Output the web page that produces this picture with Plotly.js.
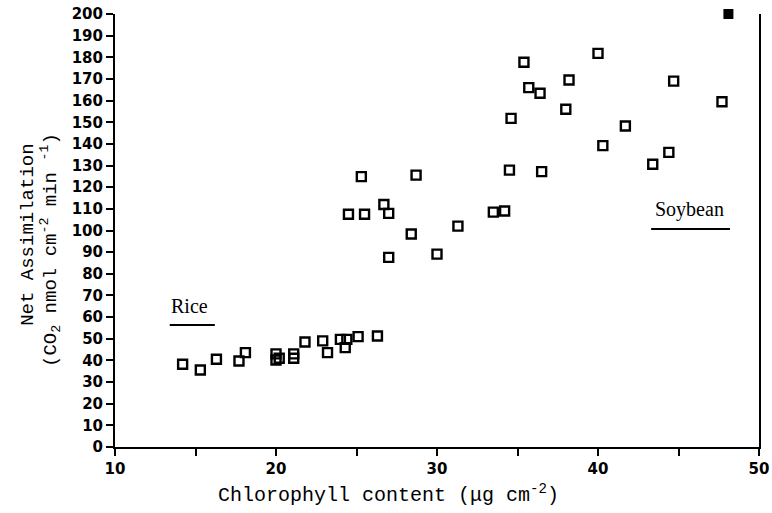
<!DOCTYPE html>
<html><head><meta charset="utf-8">
<script src="https://cdn.plot.ly/plotly-3.0.1.min.js"></script>
<style>html,body{margin:0;padding:0;background:#fff}</style>
</head><body><div id="chart" style="width:772px;height:513px"></div>
<script>
// Rice data
const riceX = [14.2, 15.3, 16.3, 17.7, 18.1, 20.0, 20.0, 20.2, 21.1, 21.1, 21.8, 22.9, 23.2, 24.0, 24.4, 24.3, 25.1, 26.3];
const riceY = [38.2, 35.6, 40.5, 39.7, 43.6, 43.0, 40.2, 41.0, 43.0, 41.0, 48.5, 49.0, 43.6, 49.7, 49.7, 45.9, 51.0, 51.3];
// Soybean data
const soyX = [25.3, 28.7, 24.5, 25.5, 26.7, 27.0, 28.4, 31.3, 27.0, 30.0, 33.5, 34.2,
  35.4, 40.0, 38.2, 35.7, 36.4, 44.7, 47.7, 34.6, 38.0, 41.7, 40.3, 44.4, 43.4, 34.5, 36.5];
const soyY = [124.9, 125.6, 107.5, 107.5, 112.0, 107.9, 98.4, 102.0, 87.6, 89.1, 108.5, 109.0,
  177.7, 181.8, 169.5, 166.0, 163.4, 169.0, 159.5, 151.8, 156.0, 148.3, 139.2, 136.1, 130.6, 127.9, 127.2];
const filledX = [48.1];
const filledY = [200];
const xTicks = [10, 20, 30, 40, 50];
const yTicks = [0,10,20,30,40,50,60,70,80,90,100,110,120,130,140,150,160,170,180,190,200];
const yTitle1 = 'Net Assimilation';
const yTitle2 = '(CO<sub>2</sub> nmol cm<sup>-2</sup> min <sup>-1</sup>)';
const xTitle = 'Chlorophyll content (μg cm<sup>-2</sup>)';

const openMarker = {symbol: 'square-open', size: 9, color: '#000', line: {width: 2.4, color: '#000'}};
const traces = [
  {x: riceX, y: riceY, type: 'scatter', mode: 'markers', marker: openMarker, cliponaxis: false, name: 'Rice'},
  {x: soyX, y: soyY, type: 'scatter', mode: 'markers', marker: openMarker, cliponaxis: false, name: 'Soybean'},
  {x: filledX, y: filledY, type: 'scatter', mode: 'markers', marker: {symbol: 'square', size: 10, color: '#000'}, cliponaxis: false}
];
const tickFont = {family: 'DejaVu Sans, Liberation Sans, sans-serif', size: 15, weight: 'bold', color: '#000'};
const monoFont = {family: 'Liberation Mono, Courier New, monospace', size: 19, color: '#000'};
const layout = {
  width: 772, height: 513,
  margin: {l: 115, r: 13, t: 14, b: 66},
  paper_bgcolor: '#fff', plot_bgcolor: '#fff',
  showlegend: false,
  font: {family: 'Liberation Sans, Arial, sans-serif', color: '#000'},
  xaxis: {
    range: [10, 50], tickvals: xTicks,
    showgrid: false, zeroline: false, showline: true, linecolor: '#000', linewidth: 2,
    ticks: 'outside', ticklen: 7, tickwidth: 2, tickcolor: '#000',
    minor: {dtick: 5, ticks: 'outside', ticklen: 7, tickwidth: 2, tickcolor: '#000', showgrid: false},
    tickfont: tickFont
  },
  yaxis: {
    range: [0, 200], tickvals: yTicks,
    showgrid: false, zeroline: false, showline: true, linecolor: '#000', linewidth: 2, mirror: true,
    ticks: 'outside', ticklen: 7, tickwidth: 2, tickcolor: '#000',
    tickfont: tickFont
  },
  annotations: [
    {x: 0, y: 0.49, xref: 'paper', yref: 'paper', xanchor: 'center', yanchor: 'middle', xshift: -87, textangle: -90,
     text: yTitle1, showarrow: false, font: monoFont},
    {x: 0, y: 0.455, xref: 'paper', yref: 'paper', xanchor: 'center', yanchor: 'middle', xshift: -64, textangle: -90,
     text: yTitle2, showarrow: false, font: monoFont},
    {x: 0.424, y: 0, xref: 'paper', yref: 'paper', xanchor: 'center', yanchor: 'middle', yshift: -47,
     text: xTitle, showarrow: false, font: {family: 'Liberation Mono, Courier New, monospace', size: 20, color: '#000'}},
    {x: 14.6, y: 65, xref: 'x', yref: 'y', text: 'Rice', showarrow: false, font: {family: 'Liberation Serif, serif', size: 20, color: '#000'}},
    {x: 45.7, y: 109.5, xref: 'x', yref: 'y', text: 'Soybean', showarrow: false, font: {family: 'Liberation Serif, serif', size: 20, color: '#000'}}
  ],
  shapes: [
    {type: 'line', xref: 'x', yref: 'y', x0: 13.4, x1: 16.2, y0: 56.4, y1: 56.4, line: {color: '#000', width: 2}},
    {type: 'line', xref: 'x', yref: 'y', x0: 43.3, x1: 48.2, y0: 100.7, y1: 100.7, line: {color: '#000', width: 2}}
  ]
};
Plotly.newPlot('chart', traces, layout, {displayModeBar: false, staticPlot: true});
</script></body></html>
